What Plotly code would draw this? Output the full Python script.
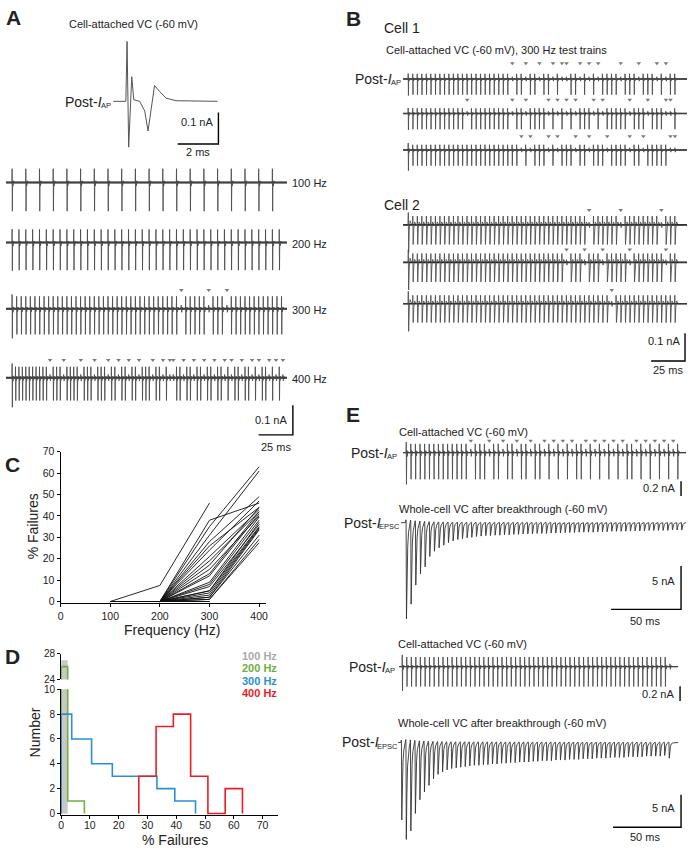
import plotly.graph_objects as go

W, H = 690, 853
FONT = "Liberation Sans, Arial, Helvetica, sans-serif"
INK = "#262626"
SPIKE = "#4a4a4a"
BASE = "#1a1a1a"

# ============================ DATA ============================
TRAIN_MS = 200  # train duration (ms)

# Panel A inset: single action current (ms, nA)
A_INSET_T = [0, 0.62, 0.68, 0.76, 0.91, 1.01, 1.30, 1.55, 1.71, 1.84, 2.03, 2.28, 2.60, 3.09, 5.12]
A_INSET_I = [0, 0, 0.19, -0.145, 0.078, 0.005, 0, -0.031, -0.094, -0.041, 0.05, 0.031, 0.01, 0.002, 0]

# Panel A trains
A_FREQS = [100, 200, 300, 400]
A_LABELS = ["100 Hz", "200 Hz", "300 Hz", "400 Hz"]
A_AMP = [0.097, 0.093, 0.087, 0.077]
A_FIRST_AMP = [0.097, 0.095, 0.100, 0.100]
A_FAIL_100 = []
A_FAIL_200 = []
A_FAIL_300 = [37, 43, 47]
A_FAIL_400 = [11, 15, 20, 24, 28, 31, 34, 37, 41, 44, 46, 47, 50, 53, 56, 59, 62, 64, 67, 70, 72, 75, 77, 79]

# Panel B (300 Hz test trains)
B_FREQ = 300
B_CELL1_AMP = [0.057, 0.057, 0.057]
B_CELL1_FIRST = [0.060, 0.060, 0.075]
B_CELL1_FAIL_1 = [23, 26, 29, 32, 34, 35, 38, 40, 42, 47, 51, 55, 57]
B_CELL1_FAIL_2 = [13, 23, 26, 31, 33, 35, 37, 41, 43, 49, 53, 57, 58]
B_CELL1_FAIL_3 = [25, 27, 31, 33, 37, 40, 44, 49, 52, 58, 59]
B_CELL2_AMP = [0.071, 0.071, 0.068]
B_CELL2_FIRST = [0.100, 0.100, 0.100]
B_CELL2_FAIL_1 = [40, 47, 56]
B_CELL2_FAIL_2 = [35, 39, 43, 49, 57]
B_CELL2_FAIL_3 = [45]

# normalised waveform shapes (trough = -1)
AP_SHAPE_T = [0, 0.12, 0.3, 0.5, 0.8, 1.2, 1.6]
AP_SHAPE_V = [0, 0.48, -1.0, 0.05, -0.12, 0.06, 0]
AP2_SHAPE_V = [0, 0.33, -1.0, 0.08, -0.12, 0.05, 0]
B2_SHAPE_T = [0, 0.2, 0.45, 0.9, 1.5, 2.2, 3.0]
B2_SHAPE_V = [0, 0.45, -1.0, -0.2, 0.15, 0.05, 0]
FAIL_SHAPE_T = [0, 0.25, 0.6, 1.0, 1.4]
FAIL_SHAPE_V = [0, 0.14, -0.14, 0.06, 0]
EPSC_SHAPE_T = [0, 0.1, 0.25, 0.5, 0.9, 1.4, 2.0, 2.8]
EPSC_SHAPE_V = [0, 0.03, 0, -1.0, -0.55, -0.25, -0.1, -0.03]

# Panel C: % failures per cell at 100/200/300/400 Hz (None = not tested)
C_FREQ = [100, 200, 300, 400]
C_XTICKS = [0, 100, 200, 300, 400]
C_YTICKS = [0, 10, 20, 30, 40, 50, 60, 70]
C_V100 = [0] * 27
C_V200 = [7.5] + [0] * 26
C_V300 = [46, 38, 35, 31, 28, 26, 24, 21, 19, 17, 15, 13, 12, 9, 8, 7, 5, 5, 4, 3, 2, 2, 1, 1, 0, 0, 0]
C_V400 = [None, 46, 63, 61, 49, 44, 47, 43, 42, 44, 40, 42, 41, 39.5, 38, 36, 37, 35, 34.5, 34, 33.5, 31,
          29, 27.5, None, None, None]

# Panel D: histograms of % failures
D_LABELS = ["100 Hz", "200 Hz", "300 Hz", "400 Hz"]
D_COLORS = ["#a9a9a9", "#6fae3f", "#2b8fd6", "#ec1c24"]
D_EDGES_100 = [0, 2.3]
D_COUNT_100 = [27]
D_EDGES_200 = [0, 2.3, 8.1]
D_COUNT_200 = [26, 1]
D_EDGES_300 = [0, 3.7, 10.6, 17.8, 25.5, 33.3, 39.5, 46.7]
D_COUNT_300 = [8, 6, 4, 3, 3, 2, 1]
D_EDGES_400 = [27, 33, 39, 45, 51, 57, 63]
D_COUNT_400 = [3, 7, 8, 3, 0, 2]
D_XTICKS = [0, 10, 20, 30, 40, 50, 60, 70]
D_YTICKS_LOW = [0, 2, 4, 6, 8, 10]
D_YTICKS_HIGH = [24, 28]

# Panel E (300 Hz)
E_FREQ = 300
E1_AP_AMP = 0.36
E1_AP_FIRST = 0.43
E1_AP_FAIL = [14, 18, 21, 24, 27, 30, 32, 34, 36, 39, 41, 43, 45, 47, 50, 52, 54, 56, 58]
E1_EPSC_AMP = [11.1, 9.4, 7.2, 5.9, 5.1, 3.9, 3.3, 2.9, 2.6, 2.3,
               2.1, 1.95, 1.85, 1.75, 1.7, 1.6, 1.55, 1.5, 1.5, 1.45,
               1.45, 1.4, 1.4, 1.35, 1.35, 1.3, 1.3, 1.3, 1.25, 1.25,
               1.25, 1.2, 1.2, 1.2, 1.15, 1.15, 1.15, 1.1, 1.1, 1.1,
               1.1, 1.05, 1.05, 1.05, 1.0, 1.0, 1.0, 1.0, 0.95, 0.95,
               0.95, 0.95, 0.9, 0.9, 0.9, 0.9, 0.9, 0.85, 0.85, 0.85]
E2_AP_AMP = 0.27
E2_AP_FIRST = 0.33
E2_AP_FAIL = [59]
E2_EPSC_AMP = [11.9, 14.9, 13.6, 10.9, 8.8, 7.6, 6.6, 5.6, 4.9, 4.5,
               4.2, 4.0, 3.9, 3.8, 3.7, 3.6, 3.5, 3.5, 3.4, 3.4,
               3.3, 3.3, 3.2, 3.2, 3.1, 3.1, 3.0, 3.0, 3.0, 2.9,
               2.9, 2.8, 2.8, 2.8, 2.7, 2.7, 2.7, 2.6, 2.6, 2.6,
               2.5, 2.5, 2.5, 2.4, 2.4, 2.4, 2.3, 2.3, 2.3, 2.3,
               2.2, 2.2, 2.2, 2.2, 2.1, 2.1, 2.1, 2.1, 2.0, 2.4]

# ============================ FIGURE ============================
layout = dict(width=W, height=H, margin=dict(l=0, r=0, t=0, b=0, pad=0), autosize=False,
              paper_bgcolor="white", plot_bgcolor="rgba(0,0,0,0)", showlegend=False,
              font=dict(family=FONT, color="#222"))
traces = []
annots = []
AXMAP = {}


def make_axes(n, box, xmap, ymap):
    x0, x1, y0, y1 = box
    xpx, xval, xs = xmap
    ypx, yval, ys = ymap
    s = "" if n == 1 else str(n)
    layout["xaxis" + s] = dict(domain=[x0 / W, x1 / W],
                               range=[xval + (x0 - xpx) / xs, xval + (x1 - xpx) / xs],
                               anchor="y" + s, visible=False, fixedrange=True,
                               showgrid=False, zeroline=False)
    layout["yaxis" + s] = dict(domain=[1 - y1 / H, 1 - y0 / H],
                               range=[yval + (ypx - y1) / ys, yval + (ypx - y0) / ys],
                               anchor="x" + s, visible=False, fixedrange=True,
                               showgrid=False, zeroline=False)
    AXMAP[n] = (xmap, ymap)
    return "x" + s, "y" + s


def xv(n, px):
    xpx, xval, xs = AXMAP[n][0]
    return xval + (px - xpx) / xs


def yv(n, py):
    ypx, yval, ys = AXMAP[n][1]
    return yval + (ypx - py) / ys


def add_line(xa, ya, xs, ys, color=INK, width=1.0, shape="linear", **kw):
    traces.append(go.Scatter(x=xs, y=ys, xaxis=xa, yaxis=ya, mode="lines",
                             line=dict(color=color, width=width, shape=shape),
                             hoverinfo="skip", **kw))


def build_train(freq, amps, fails, shape_t, shape_v, t_start, t_end, base):
    isi = 1000.0 / freq
    xs, ys = [t_start], [base]
    for i in range(len(amps)):
        t = i * isi
        if i in fails:
            st, sv = FAIL_SHAPE_T, FAIL_SHAPE_V
        else:
            st, sv = shape_t, shape_v
        for dt, v in zip(st, sv):
            xs.append(t + dt)
            ys.append(base + v * amps[i])
    xs.append(t_end)
    ys.append(base)
    return xs, ys


def draw_ap_train(xa, ya, xs, ys, base_w=1.7):
    # holding-current baseline (thick, noisy-looking) + the spike trace
    add_line(xa, ya, [xs[0], xs[-1]], [ys[0], ys[-1]], color=BASE, width=base_w)
    add_line(xa, ya, xs, ys, color=SPIKE, width=0.85)


def n_stim(freq):
    return int(round(freq * TRAIN_MS / 1000.0))


def add_arrows(n, xa, ya, freq, fails, y_px):
    isi = 1000.0 / freq
    if not fails:
        return
    traces.append(go.Scatter(x=[i * isi + 0.3 for i in fails], y=[yv(n, y_px)] * len(fails),
                             xaxis=xa, yaxis=ya, mode="markers",
                             marker=dict(symbol="triangle-down", size=4, color="#7a7a7a"),
                             hoverinfo="skip"))


def scalebar(n, xa, ya, corner, dx, dy):
    cx, cy = xv(n, corner[0]), yv(n, corner[1])
    xs, ys = [], []
    if dx:
        xs += [cx - dx]
        ys += [cy]
    xs += [cx]
    ys += [cy]
    if dy:
        xs += [cx]
        ys += [cy + dy]
    add_line(xa, ya, xs, ys, color="black", width=1.4)


def ann(text, px, py, size=11, xanchor="left", yanchor="middle", color="#222", angle=0):
    annots.append(dict(text=text, x=px / W, y=1 - py / H, xref="paper", yref="paper",
                       xanchor=xanchor, yanchor=yanchor, showarrow=False, textangle=angle,
                       borderpad=0, font=dict(size=size, color=color, family=FONT)))


CHAR_W = {"A": 0.667, "P": 0.667, "E": 0.667, "S": 0.667, "C": 0.722}
SUB_SIZE = 7.5


def post_label(sub, px, py):
    w = sum(CHAR_W[c] for c in sub) * SUB_SIZE
    ann(sub, px, py + 4, size=SUB_SIZE, xanchor="right")
    ann("Post-<i>I</i>", px - w + 1, py, size=14, xanchor="right")


# ---------------- Panel A ----------------
ann("<b>A</b>", 2, 12, size=21)
ann("Cell-attached VC (-60 mV)", 65, 18, size=11)
xa, ya = make_axes(1, (100, 230, 25, 155), (110, 0, 20.5), (96.7, 0, 320))
add_line(xa, ya, [t + 0.05 for t in A_INSET_T], A_INSET_I, color="#555", width=1.0)
scalebar(1, xa, ya, (217, 140), 2, 0.1)
post_label("AP", 110, 97)
ann("0.1 nA", 213, 118, xanchor="right")
ann("2 ms", 196, 148, xanchor="center")

xa, ya = make_axes(2, (0, 300, 155, 445), (9, 0, 1.38), (179, 0, 300))
A_ROWS_PX = [179, 240, 307, 377]
A_ARROW_PX = [0, 0, 19, 18]
A_FAILS = [A_FAIL_100, A_FAIL_200, A_FAIL_300, A_FAIL_400]
for k, f in enumerate(A_FREQS):
    n = n_stim(f)
    amps = [A_FIRST_AMP[k]] + [A_AMP[k]] * (n - 1)
    base = yv(2, A_ROWS_PX[k])
    xs, ys = build_train(f, amps, A_FAILS[k], AP_SHAPE_T, AP_SHAPE_V, xv(2, 3), xv(2, 286), base)
    draw_ap_train(xa, ya, xs, ys, base_w=2.0)
    add_arrows(2, xa, ya, f, A_FAILS[k], A_ROWS_PX[k] - A_ARROW_PX[k])
    ann(A_LABELS[k], 290, A_ROWS_PX[k] + 1, size=11)
scalebar(2, xa, ya, (292, 435), 25, 0.1)
ann("0.1 nA", 287, 420, xanchor="right")
ann("25 ms", 275, 447, xanchor="center")

# ---------------- Panel B ----------------
ann("<b>B</b>", 344, 13, size=21)
ann("Cell 1", 383, 22, size=14)
ann("Cell-attached VC (-60 mV), 300 Hz test trains", 385, 45, size=11)
ann("Cell 2", 383, 202, size=14)
post_label("AP", 402, 74)
xa, ya = make_axes(3, (400, 690, 50, 380), (408, 0, 1.365), (74, 0, 280))
B_ROWS_PX = [74, 109, 146, 222, 260, 302]
B_ARROW_PX = [16, 14, 14, 15, 13, 14]
B_FAILS = [B_CELL1_FAIL_1, B_CELL1_FAIL_2, B_CELL1_FAIL_3, B_CELL2_FAIL_1, B_CELL2_FAIL_2, B_CELL2_FAIL_3]
B_AMPS = B_CELL1_AMP + B_CELL2_AMP
B_FIRST = B_CELL1_FIRST + B_CELL2_FIRST
nb = n_stim(B_FREQ)
for k in range(6):
    amps = [B_FIRST[k]] + [B_AMPS[k]] * (nb - 1)
    base = yv(3, B_ROWS_PX[k])
    if k < 3:
        sh_t, sh_v = AP_SHAPE_T, AP2_SHAPE_V
    else:
        sh_t, sh_v = B2_SHAPE_T, B2_SHAPE_V
    xs, ys = build_train(B_FREQ, amps, B_FAILS[k], sh_t, sh_v, xv(3, 403), xv(3, 689), base)
    draw_ap_train(xa, ya, xs, ys, base_w=1.6)
    add_arrows(3, xa, ya, B_FREQ, B_FAILS[k], B_ROWS_PX[k] - B_ARROW_PX[k])
scalebar(3, xa, ya, (687, 360), 25, 0.1)
ann("0.1 nA", 683, 340, xanchor="right")
ann("25 ms", 670, 369, xanchor="center")

# ---------------- Panel C ----------------
ann("<b>C</b>", 1, 465, size=21)
xa, ya = make_axes(4, (58, 265, 452, 605.8), (58, 0, 0.5), (604, 0, 2.17))
axstyle = dict(visible=True, showline=True, linecolor="black", linewidth=1, ticks="outside",
               ticklen=3, tickwidth=1, tickcolor="black",
               tickfont=dict(size=10.5, family=FONT, color="#222"))
layout["xaxis4"].update(axstyle, tickvals=C_XTICKS)
layout["yaxis4"].update(axstyle, tickvals=C_YTICKS)
for i in range(len(C_V100)):
    add_line(xa, ya, C_FREQ, [C_V100[i], C_V200[i], C_V300[i], C_V400[i]],
             color="#111", width=0.9, connectgaps=False)
ann("% Failures", 30, 528, size=14, xanchor="center", angle=-90)
ann("Frequency (Hz)", 170, 633, size=14, xanchor="center")

# ---------------- Panel D ----------------
ann("<b>D</b>", 1, 660, size=21)
xa, ya = make_axes(5, (58.5, 277, 693, 820.5), (58.5, 0, 2.9), (819, 0, 12.6))
dstyle = dict(axstyle, tickfont=dict(size=10, family=FONT, color="#222"))
layout["xaxis5"].update(axstyle, tickvals=D_XTICKS, layer="below traces", ticklabelstandoff=-3)
layout["yaxis5"].update(dstyle, tickvals=D_YTICKS_LOW)
layout["yaxis6"] = dict(dstyle, domain=[1 - 683 / H, 1 - 657 / H], range=[24, 28], anchor="x5",
                        tickvals=D_YTICKS_HIGH, fixedrange=True, showgrid=False, zeroline=False)
for yax in (ya, "y6"):
    traces.append(go.Scatter(x=[D_EDGES_100[0], D_EDGES_100[1], D_EDGES_100[1], D_EDGES_100[0]],
                             y=[0, 0, D_COUNT_100[0], D_COUNT_100[0]], xaxis=xa, yaxis=yax,
                             mode="lines", fill="toself", fillcolor="#c8c8c8",
                             line=dict(width=0, color="#c8c8c8"), hoverinfo="skip"))
    for edges, counts, col in ((D_EDGES_200, D_COUNT_200, D_COLORS[1]),
                               (D_EDGES_300, D_COUNT_300, D_COLORS[2]),
                               (D_EDGES_400, D_COUNT_400, D_COLORS[3])):
        add_line(xa, yax, [edges[0]] + edges, [0] + counts + [0], color=col, width=1.6, shape="hv")
ann("Number", 32, 737, size=14, xanchor="center", angle=-90)
ann("% Failures", 173, 846, size=14, xanchor="center")
for k, lab in enumerate(D_LABELS):
    ann("<b>%s</b>" % lab, 277, 659 + 12.7 * k, size=11, xanchor="right", color=D_COLORS[k])

# ---------------- Panel E ----------------
ann("<b>E</b>", 344, 414, size=21)
ne = n_stim(E_FREQ)
# E1 cell-attached
ann("Cell-attached VC (-60 mV)", 398, 432, size=11)
post_label("AP", 398, 453)
xa, ya = make_axes(7, (400, 690, 428, 500), (406, 0, 1.39), (453, 0, 75))
amps = [E1_AP_FIRST] + [E1_AP_AMP] * (ne - 1)
xs, ys = build_train(E_FREQ, amps, E1_AP_FAIL, AP_SHAPE_T, AP2_SHAPE_V, xv(7, 403), xv(7, 688), 0)
draw_ap_train(xa, ya, xs, ys, base_w=1.2)
add_arrows(7, xa, ya, E_FREQ, E1_AP_FAIL, 441)
scalebar(7, xa, ya, (683, 497), 0, 0.2)
ann("0.2 nA", 678, 489, xanchor="right")
# E1 whole-cell
ann("Whole-cell VC after breakthrough (-60 mV)", 398, 510, size=11)
post_label("EPSC", 401, 524)
xa, ya = make_axes(8, (400, 690, 512, 632), (405.7, 0, 1.41), (524, 0, 8.8))
xs, ys = build_train(E_FREQ, E1_EPSC_AMP, [], EPSC_SHAPE_T, EPSC_SHAPE_V, xv(8, 401), xv(8, 688), 0)
add_line(xa, ya, xs, ys, color="#333", width=0.9)
scalebar(8, xa, ya, (683, 612), 50, 5)
ann("5 nA", 678, 583, xanchor="right")
ann("50 ms", 647, 624, xanchor="center")
# E2 cell-attached
ann("Cell-attached VC (-60 mV)", 397, 647, size=11)
post_label("AP", 396, 670)
xa, ya = make_axes(9, (395, 690, 648, 712), (402, 0, 1.37), (670, 0, 75))
amps = [E2_AP_FIRST] + [E2_AP_AMP] * (ne - 1)
xs, ys = build_train(E_FREQ, amps, E2_AP_FAIL, AP_SHAPE_T, AP_SHAPE_V, xv(9, 399), xv(9, 680), 0)
draw_ap_train(xa, ya, xs, ys, base_w=1.2)
scalebar(9, xa, ya, (682, 705), 0, 0.2)
ann("0.2 nA", 677, 698, xanchor="right")
# E2 whole-cell
ann("Whole-cell VC after breakthrough (-60 mV)", 397, 727, size=11)
post_label("EPSC", 399, 747)
xa, ya = make_axes(10, (395, 690, 735, 853), (401, 0, 1.37), (747, 0, 6.6))
xs, ys = build_train(E_FREQ, E2_EPSC_AMP, [], EPSC_SHAPE_T, EPSC_SHAPE_V, xv(10, 398), xv(10, 680), 0)
add_line(xa, ya, xs, ys, color="#333", width=0.9)
scalebar(10, xa, ya, (683, 833), 50, 5)
ann("5 nA", 678, 813, xanchor="right")
ann("50 ms", 647, 843, xanchor="center")

layout["annotations"] = annots
fig = go.Figure(data=traces, layout=layout)
fig.write_html("out.html", config={"displayModeBar": False},
               post_script="document.body.style.margin='0px';document.body.style.overflow='hidden';")
